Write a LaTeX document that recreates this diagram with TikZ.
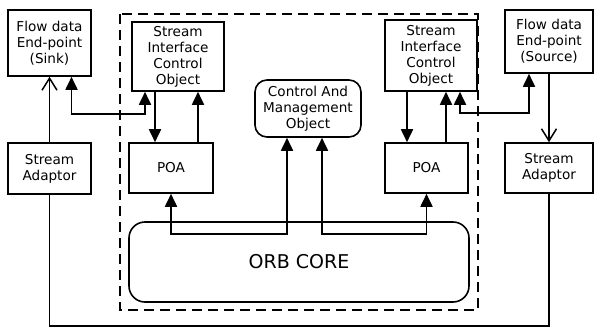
\documentclass[tikz,border=0pt]{standalone}
\usepackage{fontspec}
\setmainfont{DejaVu Sans}
\usetikzlibrary{positioning}
\usetikzlibrary{arrows.meta}

\begin{document}
\begin{tikzpicture}[x=1pt,y=-1pt,
    box/.style={draw, line width=1.6pt, inner sep=0pt, align=center,
                font=\fontsize{13.6}{16}\selectfont},
    roundbox/.style={box, rounded corners=12pt},
    tri/.style={line width=1.8pt, {Triangle[length=13pt,width=12pt]}-{Triangle[length=13pt,width=12pt]}},
    tip/.style={line width=1.8pt, -{Triangle[length=13pt,width=12pt]}},
    barb/.style={line width=1.8pt, -{Straight Barb[length=12pt,width=15pt,line width=1.5pt]}}]

    \useasboundingbox (0,0) rectangle (594,329);

    \draw[line width=1.8pt, dash pattern=on 10pt off 6pt] (120,14) rectangle (478,310);

    \node[box, minimum width=83pt, minimum height=66pt] (sink) at (49.5,43)
        {Flow data\\End-point\\(Sink)};
    \node[box, minimum width=88pt, minimum height=63pt] (source) at (549,41.5)
        {Flow data\\End-point\\(Source)};
    \node[box, minimum width=83pt, minimum height=51pt] (adaptL) at (49.5,168.5)
        {Stream\\Adaptor};
    \node[box, minimum width=88pt, minimum height=50pt] (adaptR) at (549,168)
        {Stream\\Adaptor};

    \node[box, minimum width=92pt, minimum height=69pt] (sicoL) at (178,56.5)
        {Stream\\Interface\\Control\\Object};
    \node[box, minimum width=92pt, minimum height=71pt] (sicoR) at (431,55.5)
        {Stream\\Interface\\Control\\Object};
    \node[box, minimum width=84pt, minimum height=50pt] (poaL) at (171,168) {POA};
    \node[box, minimum width=83pt, minimum height=50pt] (poaR) at (426.5,168) {POA};

    \node[roundbox, minimum width=106pt, minimum height=57pt] (camo) at (308,108.5)
        {Control And\\Management\\Object};
    \node[roundbox, rounded corners=16pt, minimum width=340pt, minimum height=80pt,
          font=\fontsize{19}{22}\selectfont] (orb) at (299,262) {ORB CORE};

    \coordinate (loopbot) at (0,326);

    \draw[barb] (adaptL.north) -- (sink.south);
    \draw[barb] (source.south) -- (adaptR.north);
    \draw[line width=1.3pt] (adaptL.south) -- (adaptL.south |- loopbot) -| (adaptR.south);

    \draw[tri] ([xshift=22pt]sink.south) -- ++(0,37) -| ([xshift=-33pt]sicoL.south);
    \draw[tip] ([xshift=-23pt]sicoL.south) -- ([xshift=-23pt]sicoL.south |- poaL.north);
    \draw[tip] ([xshift=20pt]sicoL.south |- poaL.north) -- ([xshift=20pt]sicoL.south);

    \draw[tri] ([xshift=-20pt]source.south) -- ++(0,39) -| ([xshift=29pt]sicoR.south);
    \draw[tip] ([xshift=-24pt]sicoR.south) -- ([xshift=-24pt]sicoR.south |- poaR.north);
    \draw[tip] ([xshift=15pt]sicoR.south |- poaR.north) -- ([xshift=15pt]sicoR.south);

    \draw[tri] (poaL.south) -- ++(0,40) -| ([xshift=-21pt]camo.south);
    \draw[tri] (poaR.south) -- ++(0,40) -| ([xshift=14pt]camo.south);

\end{tikzpicture}
\end{document}
